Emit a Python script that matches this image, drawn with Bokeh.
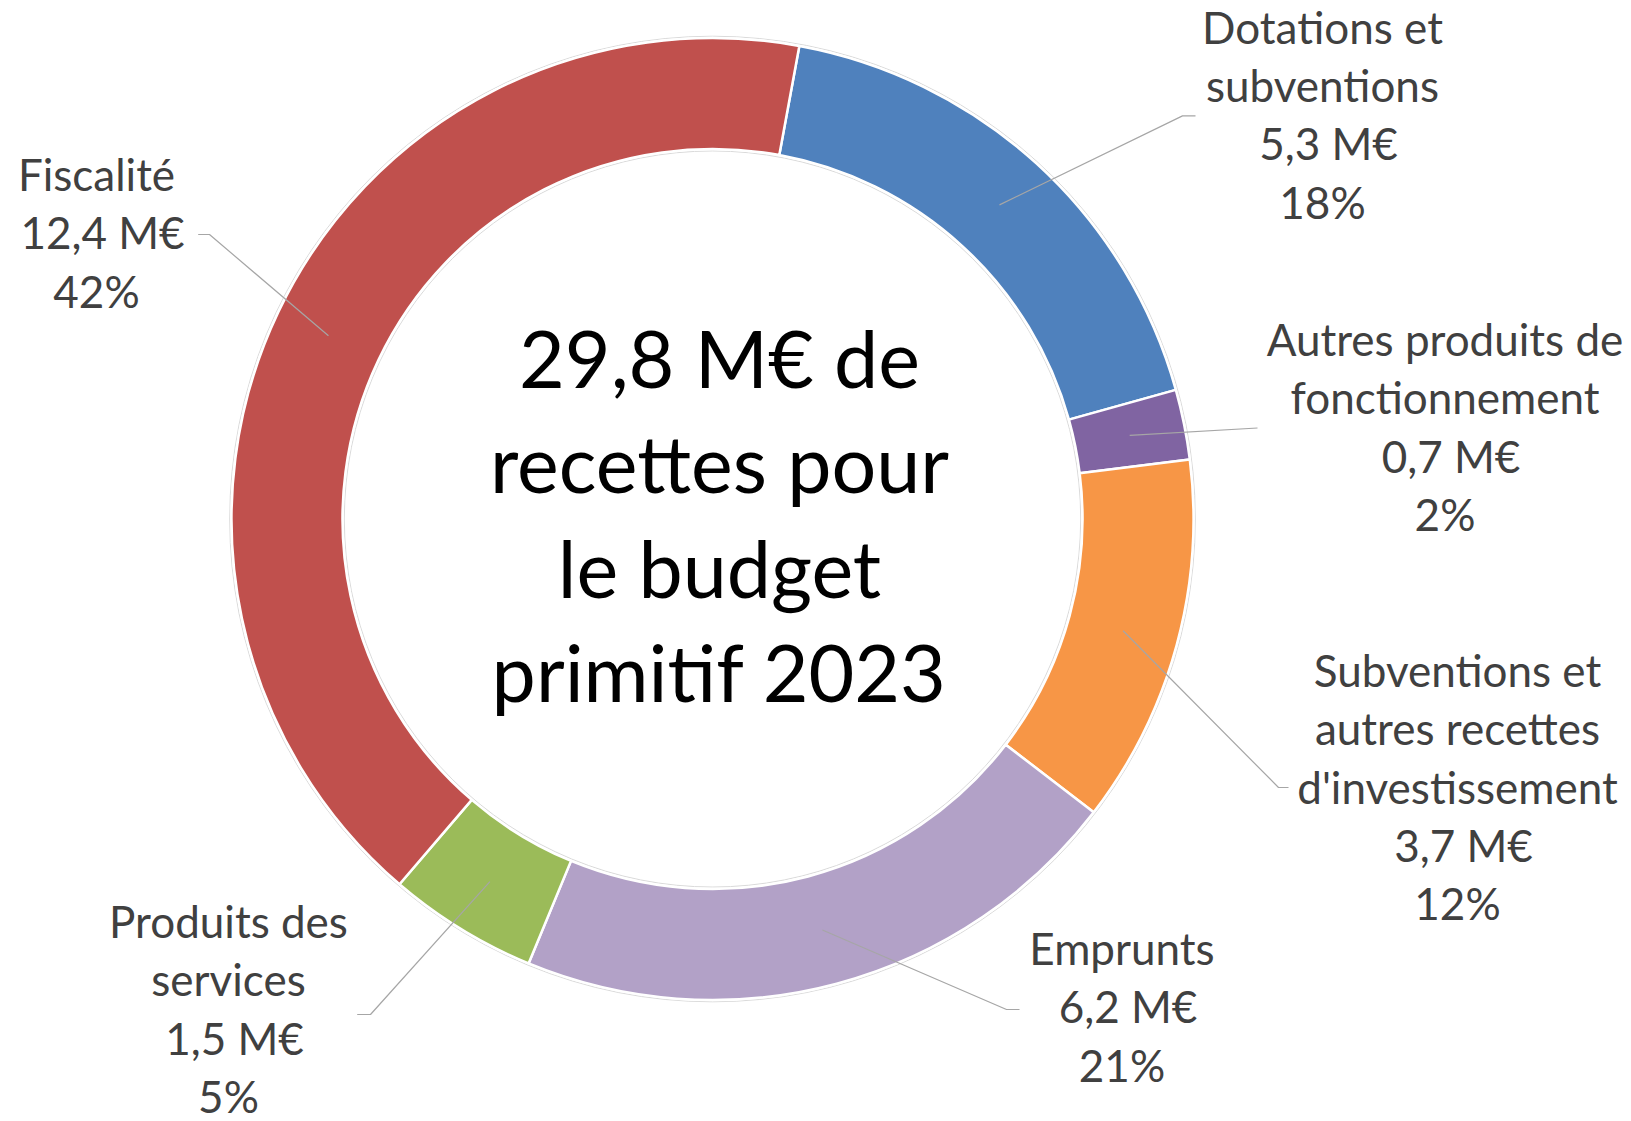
import math
from bokeh.plotting import figure
from bokeh.models import Range1d, ColumnDataSource, InlineStyleSheet
from bokeh.embed import file_html
from bokeh.resources import INLINE
from bokeh.core.properties import value

# ---------------- data ----------------
categories = [
    "Dotations et subventions",
    "Autres produits de fonctionnement",
    "Subventions et autres recettes d'investissement",
    "Emprunts",
    "Produits des services",
    "Fiscalité",
]
label_lines = [
    ["Dotations et", "subventions"],
    ["Autres produits de", "fonctionnement"],
    ["Subventions et", "autres recettes", "d'investissement"],
    ["Emprunts"],
    ["Produits des", "services"],
    ["Fiscalité"],
]
amounts = [5.3, 0.7, 3.7, 6.2, 1.5, 12.4]  # M€
colors = ["#4F81BD", "#8064A2", "#F79646", "#B2A1C7", "#9BBB59", "#C0504D"]
center_title = ["29,8 M€ de", "recettes pour", "le budget", "primitif 2023"]

# ---------------- layout ----------------
W, H = 1631, 1121


def Y(ypix):
    return H - ypix


CX, CY = 712.0, Y(518.5)
R_OUT, R_IN = 481.0, 370.0
START_DEG = 10.4  # first slice angle, clockwise from 12 o'clock

LABEL_FONT = value("Lato")
LABEL_PX = 44
TITLE_PX = 79
BASE_CORR = 0.42  # empirical baseline correction (em)
LINE_H = 58.3
VALUE_SHIFT = 6
# (centre x, first baseline y) in page pixels for each label block
label_pos = [(1322, 44.6), (1444.5, 357), (1457, 688), (1121.5, 966), (228, 939), (96, 192)]
# leader: (start x near label, elbow x or None, y) in page pixels
leaders = [(1195, 1182, 115.4), (1257, None, 427.5), (1288, 1278, 787),
           (1019, 1006, 1009), (356.7, 370, 1014), (197.7, 209, 234)]

p = figure(width=W, height=H, x_range=Range1d(0, W), y_range=Range1d(0, H),
           output_backend="svg", toolbar_location=None, min_border=0)
p.axis.visible = False
p.grid.visible = False
p.outline_line_color = None
p.background_fill_color = "white"
p.border_fill_color = "white"
p.stylesheets = [InlineStyleSheet(css="text { font-variant-ligatures: none; font-feature-settings: 'liga' 0, 'clig' 0, 'dlig' 0; }")]

total = sum(amounts)
starts, ends, mids = [], [], []
cum = 0.0
for v in amounts:
    t1 = START_DEG + cum / total * 360.0
    t2 = START_DEG + (cum + v) / total * 360.0
    cum += v
    starts.append(math.radians(90 - t2))
    ends.append(math.radians(90 - t1))
    mids.append((t1 + t2) / 2)

src = ColumnDataSource(dict(start=starts, end=ends, color=colors, cat=categories, amount=amounts))

# faint outline rings
p.circle(x=[CX], y=[CY], radius=R_OUT + 1.8, fill_color=None, line_color="#DADADA", line_width=1)
p.circle(x=[CX], y=[CY], radius=R_IN - 1.8, fill_color=None, line_color="#DADADA", line_width=1)

p.annular_wedge(x=CX, y=CY, inner_radius=R_IN, outer_radius=R_OUT, start_angle="start", end_angle="end",
                fill_color="color", line_color="white", line_width=2.5, source=src)

# leader lines
xs, ys = [], []
r_mid = (R_IN + R_OUT) / 2
for i, (sx, ex, ly) in enumerate(leaders):
    th = math.radians(mids[i])
    px = CX + r_mid * math.sin(th)
    py = CY + r_mid * math.cos(th)
    if ex is None:
        xs.append([sx, px]); ys.append([Y(ly), py])
    else:
        xs.append([sx, ex, px]); ys.append([Y(ly), Y(ly), py])
p.multi_line(xs=xs, ys=ys, line_color="#A6A6A6", line_width=1.2)

# labels
tx, ty, tt = [], [], []
for i, lines in enumerate(label_lines):
    v = amounts[i]
    full = lines + [f"{v:.1f}".replace(".", ",") + " M€", f"{round(v / total * 100)}%"]
    x0, y0 = label_pos[i]
    for j, s in enumerate(full):
        shift = VALUE_SHIFT if j == len(lines) else 0
        tx.append(x0 + shift)
        ty.append(Y(y0 + j * LINE_H - BASE_CORR * LABEL_PX))
        tt.append(s)
p.text(x=tx, y=ty, text=tt, text_align="center", text_baseline="alphabetic",
       text_font=LABEL_FONT, text_font_size=f"{LABEL_PX}px", text_color="#404040")

# centre title
cb = [390, 495, 600, 704]
p.text(x=[719] * 4, y=[Y(b - BASE_CORR * TITLE_PX) for b in cb], text=center_title, text_align="center",
       text_baseline="alphabetic", text_font=value("Lato"), text_font_size=f"{TITLE_PX}px",
       text_color="#000000")

open("out.html", "w").write(file_html(p, INLINE))
